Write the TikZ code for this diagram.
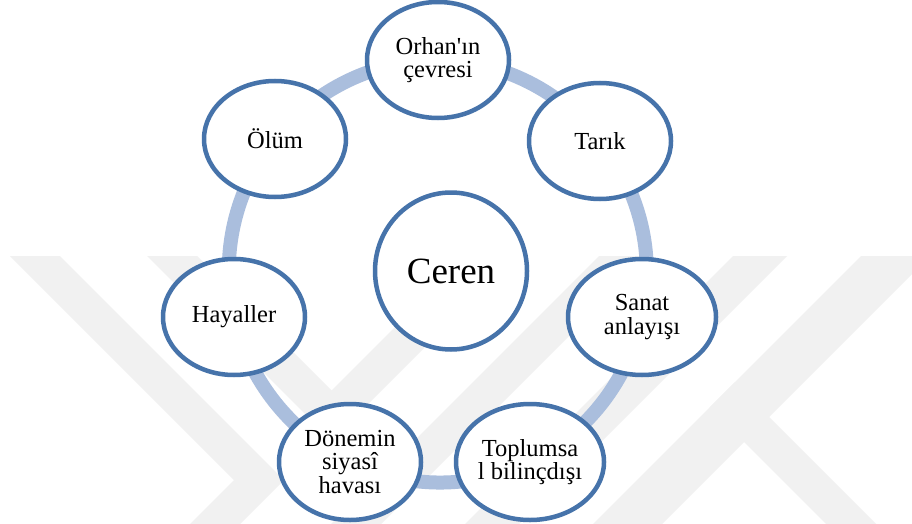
\documentclass[tikz,border=0pt]{standalone}
\usepackage{fontspec}
\setmainfont{Liberation Serif}[Ligatures=TeXOff]
\usetikzlibrary{shapes.geometric}
\definecolor{nodeblue}{RGB}{70,115,170}
\definecolor{ringblue}{RGB}{170,190,221}
\definecolor{wmgray}{RGB}{241,241,241}
\pgfdeclarelayer{wm}
\pgfdeclarelayer{ring}
\pgfsetlayers{wm,ring,main}
\tikzset{
  bub/.style={ellipse, draw=nodeblue, line width=4.5pt, fill=white,
    minimum width=142pt, minimum height=116pt, inner sep=0pt,
    align=center, font=\fontsize{24.5}{23.5}\selectfont},
  hub/.style={bub, minimum width=152pt, minimum height=157pt,
    font=\fontsize{37}{40}\selectfont},
  ringlink/.style={draw=ringblue, line width=14pt, bend left=25.7, looseness=0.9},
  wmband/.style={fill=wmgray}
}
\begin{document}
\begin{tikzpicture}[x=1pt, y=-1pt]
\useasboundingbox (0,0) rectangle (912,524);

% white page with faint diagonal watermark bands
\begin{pgfonlayer}{wm}
\fill[white] (0,0) rectangle (912,524);
\begin{scope}
\clip (0,0) rectangle (912,524);
\fill[wmband] (10,256) -- (60,256) -- (284,480) -- (240,524) -- (190,524) -- (234,480) -- cycle;
\fill[wmband] (147,256) -- (197,256) -- (331.5,390.5) -- (466,256) -- (516,256) -- (331.5,440.5) -- cycle;
\fill[wmband] (599,256) -- (649,256) -- (381,524) -- (331,524) -- cycle;
\fill[wmband] (733,256) -- (787,256) -- (519,524) -- (465,524) -- cycle;
\fill[wmband] (861,256) -- (930,256) -- (662,524) -- (593,524) -- cycle;
\fill[wmband] (734.5,382.5) -- (876,524) -- (826,524) -- (709.5,407.5) -- cycle;
\end{scope}
\end{pgfonlayer}

% cycle members
\node[bub] (orhan)    at (438,60)  {Orhan'ın\\çevresi};
\node[bub] (tarik)    at (600,141) {Tarık};
\node[bub, minimum width=148pt] (sanat) at (642,317) {Sanat\\anlayışı};
\node[bub, minimum width=148pt] (toplum) at (530,462) {Toplumsa\\l bilinçdışı};
\node[bub] (donem)    at (350,462) {Dönemin\\siyasî\\havası};
\node[bub] (hayal)    at (234,317) {Hayaller};
\node[bub] (olum)     at (275,139) {Ölüm};

% central figure
\node[hub] (ceren) at (451,271) {Ceren};

% ring linking the members
\begin{pgfonlayer}{ring}
\draw[ringlink] (orhan.center)  to (tarik.center);
\draw[ringlink] (tarik.center)  to (sanat.center);
\draw[ringlink] (sanat.center)  to (toplum.center);
\draw[ringlink] (toplum.center) to (donem.center);
\draw[ringlink] (donem.center)  to (hayal.center);
\draw[ringlink] (hayal.center)  to (olum.center);
\draw[ringlink] (olum.center)   to (orhan.center);
\end{pgfonlayer}
\end{tikzpicture}
\end{document}
